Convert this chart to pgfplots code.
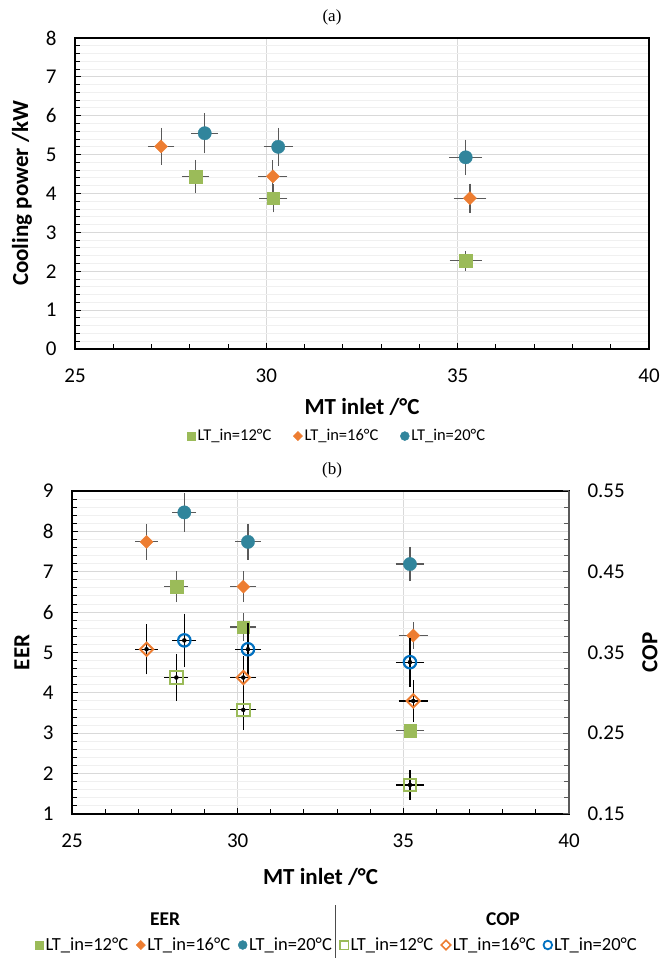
\documentclass[border=0pt]{standalone}
\usepackage{fontspec}
\setmainfont{Carlito}
\newfontfamily\timesfont{Liberation Serif}
\usepackage{pgfplots}
\usepackage{pgfplotstable}
\pgfplotsset{compat=1.18}
\definecolor{cgreen}{HTML}{9BBB59}
\definecolor{corange}{HTML}{ED7D31}
\definecolor{cteal}{HTML}{31859C}
\definecolor{cblue}{HTML}{0070C0}
\definecolor{cgrid}{HTML}{D9D9D9}
\definecolor{cminor}{HTML}{F0F0F0}
\definecolor{cerr}{HTML}{5A5A5A}
\pgfdeclareplotmark{xdiamond*}{\pgfpathmoveto{\pgfqpoint{0pt}{\pgfplotmarksize}}\pgfpathlineto{\pgfqpoint{\pgfplotmarksize}{0pt}}\pgfpathlineto{\pgfqpoint{0pt}{-\pgfplotmarksize}}\pgfpathlineto{\pgfqpoint{-\pgfplotmarksize}{0pt}}\pgfpathclose\pgfusepathqfillstroke}
\pgfdeclareplotmark{xdiamond}{\pgfpathmoveto{\pgfqpoint{0pt}{\pgfplotmarksize}}\pgfpathlineto{\pgfqpoint{\pgfplotmarksize}{0pt}}\pgfpathlineto{\pgfqpoint{0pt}{-\pgfplotmarksize}}\pgfpathlineto{\pgfqpoint{-\pgfplotmarksize}{0pt}}\pgfpathclose\pgfusepathqstroke}
% ---- data: x, y, x error, y error
\pgfplotstableread{
x y ex ey
28.15 4.44 0.29 0.36
30.18 3.88 0.30 0.30
35.21 2.27 0.35 0.19
}\qGreen
\pgfplotstableread{
x y ex ey
27.25 5.21 0.28 0.41
30.17 4.44 0.31 0.35
35.32 3.88 0.36 0.31
}\qOrange
\pgfplotstableread{
x y ex ey
28.39 5.55 0.28 0.45
30.31 5.20 0.31 0.42
35.21 4.93 0.36 0.39
}\qBlue
\pgfplotstableread{
x y ex ey
28.15 6.63 0.28 0.32
30.17 5.63 0.31 0.28
35.20 3.07 0.35 0.06
}\eGreen
\pgfplotstableread{
x y ex ey
27.25 7.74 0.26 0.38
30.17 6.63 0.31 0.32
35.30 5.42 0.36 0.26
}\eOrange
\pgfplotstableread{
x y ex ey
28.39 8.47 0.28 0.42
30.31 7.74 0.31 0.38
35.20 7.19 0.35 0.36
}\eBlue
\pgfplotstableread{
x y ex ey
28.15 0.319 0.28 0.026
30.17 0.279 0.31 0.022
35.20 0.186 0.35 0.015
}\cGreen
\pgfplotstableread{
x y ex ey
27.25 0.354 0.26 0.028
30.17 0.319 0.31 0.023
35.30 0.290 0.36 0.023
}\cOrange
\pgfplotstableread{
x y ex ey
28.39 0.365 0.28 0.030
30.31 0.354 0.31 0.029
35.20 0.338 0.35 0.027
}\cBlue
\pgfplotsset{
  base/.style={
    scale only axis, anchor=south west,
    xmin=25, xmax=40, xtick={25,30,35,40}, minor x tick num=4,
    tick align=inside, xtick pos=bottom, ytick pos=left,
    major tick length=6pt, minor tick length=5pt,
    xmajorgrids, ymajorgrids, yminorgrids,
    major grid style={cgrid, line width=1pt},
    minor grid style={cminor, line width=1pt},
    axis line style={line width=1.4pt},
    tick style={line width=1pt, black},
    /pgf/number format/assume math mode=true,
    ticklabel style={font=\fontsize{21}{24}\selectfont},
    yticklabel style={xshift=-15pt},
    xticklabel style={yshift=-16pt},
    label style={font=\bfseries\fontsize{23}{26}\selectfont},
    legend image code/.code={\draw[mark repeat=2,mark phase=2,##1] plot coordinates {(0pt,0pt)(5pt,0pt)(10pt,0pt)};},
  },
  errs/.style={only marks, mark=none, forget plot,
    /pgfplots/error bars/x dir=both, /pgfplots/error bars/x explicit,
    /pgfplots/error bars/y dir=both, /pgfplots/error bars/y explicit,
    /pgfplots/error bars/error bar style={color=#1, line width=1.2pt},
    /pgfplots/error bars/error mark options={color=#1, mark size=2.6pt, line width=1.2pt}},
  fsq/.style={only marks, forget plot, mark=square*, mark size=6.3pt, color=cgreen, mark options={fill=cgreen, draw=cgreen, line width=0.3pt}},
  fdi/.style={only marks, forget plot, mark=xdiamond*, mark size=6.6pt, color=corange, mark options={fill=corange, draw=corange, line width=0.3pt}},
  fci/.style={only marks, forget plot, mark=*, mark size=6.7pt, color=cteal, mark options={fill=cteal, draw=cteal, line width=0.3pt}},
  hsq/.style={only marks, forget plot, mark=square, mark size=6.2pt, color=cgreen, mark options={draw=cgreen, line width=2pt}},
  hdi/.style={only marks, forget plot, mark=xdiamond, mark size=6.6pt, color=corange, mark options={draw=corange, line width=2pt}},
  hci/.style={only marks, forget plot, mark=o, mark size=6.2pt, color=cblue, mark options={draw=cblue, line width=2.2pt}},
}
\begin{document}
\begin{tikzpicture}[x=1pt,y=1pt]
\path[use as bounding box] (0pt,0pt) rectangle (664pt,958pt);
\node[font=\timesfont\fontsize{17}{19}\selectfont] at (332pt,941pt) {(a)};
\node[font=\timesfont\fontsize{17}{19}\selectfont] at (332pt,488pt) {(b)};
% ---------- top chart
\begin{axis}[base, at={(75pt,609pt)}, width=574pt, height=311pt,
  ymin=0, ymax=8, ytick={0,1,2,3,4,5,6,7,8}, minor y tick num=4,
  xlabel={MT inlet /°C}, ylabel={Cooling power /kW},
  xlabel style={at={(axis description cs:0.5,-0.1865)}, anchor=center},
  ylabel style={at={(axis description cs:-0.0923,0.5)}, anchor=center},
  legend style={at={(0.4565,-0.28)}, anchor=center, draw=none, fill=none,
    legend columns=3, font=\fontsize{16.5}{19}\selectfont,
    /tikz/every even column/.append style={column sep=20pt}},
]
\addplot[errs=cerr] table[x=x, y=y, x error=ex, y error=ey] {\qGreen};
\addplot[errs=cerr] table[x=x, y=y, x error=ex, y error=ey] {\qOrange};
\addplot[errs=cerr] table[x=x, y=y, x error=ex, y error=ey] {\qBlue};
\addplot[fsq] table[x=x, y=y] {\qGreen};
\addplot[fdi] table[x=x, y=y] {\qOrange};
\addplot[fci] table[x=x, y=y] {\qBlue};
\addlegendimage{only marks, mark=square*, cgreen, mark size=4.3pt}
\addlegendentry{LT\_in=12°C}
\addlegendimage{only marks, mark=xdiamond*, corange, mark size=4.6pt}
\addlegendentry{LT\_in=16°C}
\addlegendimage{only marks, mark=*, cteal, mark size=4.5pt}
\addlegendentry{LT\_in=20°C}
\end{axis}
% ---------- bottom chart
\begin{axis}[base, at={(72pt,144pt)}, width=497pt, height=323pt,
  ymin=1, ymax=9, ytick={1,2,3,4,5,6,7,8,9}, minor y tick num=4,
  xlabel={MT inlet /°C}, ylabel={EER},
  xlabel style={at={(axis description cs:0.5,-0.195)}, anchor=center},
  ylabel style={at={(axis description cs:-0.1006,0.5)}, anchor=center},
]
\addplot[errs=cerr] table[x=x, y=y, x error=ex, y error=ey] {\eGreen};
\addplot[errs=cerr] table[x=x, y=y, x error=ex, y error=ey] {\eOrange};
\addplot[errs=cerr] table[x=x, y=y, x error=ex, y error=ey] {\eBlue};
\addplot[fsq] table[x=x, y=y] {\eGreen};
\addplot[fdi] table[x=x, y=y] {\eOrange};
\addplot[fci] table[x=x, y=y] {\eBlue};
\end{axis}
\begin{axis}[scale only axis, anchor=south west, at={(72pt,144pt)}, width=497pt, height=323pt,
  xmin=25, xmax=40, axis x line=none, axis y line*=right,
  ymin=0.15, ymax=0.55, ytick={0.15,0.25,0.35,0.45,0.55}, minor y tick num=4,
  tick align=inside, major tick length=6pt, minor tick length=5pt,
  axis line style={line width=1.4pt, cerr},
  tick style={line width=1pt, cerr},
  /pgf/number format/assume math mode=true,
  yticklabel style={font=\fontsize{21}{24}\selectfont, xshift=15pt, /pgf/number format/.cd, fixed, fixed zerofill, precision=2},
  ylabel={COP},
  ylabel style={font=\bfseries\fontsize{23}{26}\selectfont, at={(axis description cs:1.163,0.5)}, anchor=center, rotate=0},
  legend image code/.code={\draw[mark repeat=2,mark phase=2,#1] plot coordinates {(0pt,0pt)(5pt,0pt)(10pt,0pt)};},
  legend style={at={(0.533,-0.4056)}, anchor=center, draw=none, fill=none,
    legend columns=6, font=\fontsize{18.5}{21}\selectfont,
    /tikz/every even column/.append style={column sep=6pt}},
]
\addplot[errs=black] table[x=x, y=y, x error=ex, y error=ey] {\cGreen};
\addplot[errs=black] table[x=x, y=y, x error=ex, y error=ey] {\cOrange};
\addplot[errs=black] table[x=x, y=y, x error=ex, y error=ey] {\cBlue};
\addplot[hsq] table[x=x, y=y] {\cGreen};
\addplot[hdi] table[x=x, y=y] {\cOrange};
\addplot[hci] table[x=x, y=y] {\cBlue};
\addlegendimage{only marks, mark=square*, cgreen, mark size=4.3pt}
\addlegendentry{LT\_in=12°C}
\addlegendimage{only marks, mark=xdiamond*, corange, mark size=4.6pt}
\addlegendentry{LT\_in=16°C}
\addlegendimage{only marks, mark=*, cteal, mark size=4.5pt}
\addlegendentry{LT\_in=20°C}
\addlegendimage{only marks, mark=square, cgreen, mark size=4.3pt, line width=1.6pt}
\addlegendentry{LT\_in=12°C}
\addlegendimage{only marks, mark=xdiamond, corange, mark size=4.8pt, line width=1.6pt}
\addlegendentry{LT\_in=16°C}
\addlegendimage{only marks, mark=o, cblue, mark size=4.3pt, line width=1.8pt}
\addlegendentry{LT\_in=20°C}
\end{axis}
\node[font=\bfseries\fontsize{19.5}{22}\selectfont] at (165pt,39pt) {EER};
\node[font=\bfseries\fontsize{19.5}{22}\selectfont] at (503pt,39pt) {COP};
\draw[black!70, line width=1pt] (335pt,0pt) -- (335pt,53pt);
\end{tikzpicture}
\end{document}
